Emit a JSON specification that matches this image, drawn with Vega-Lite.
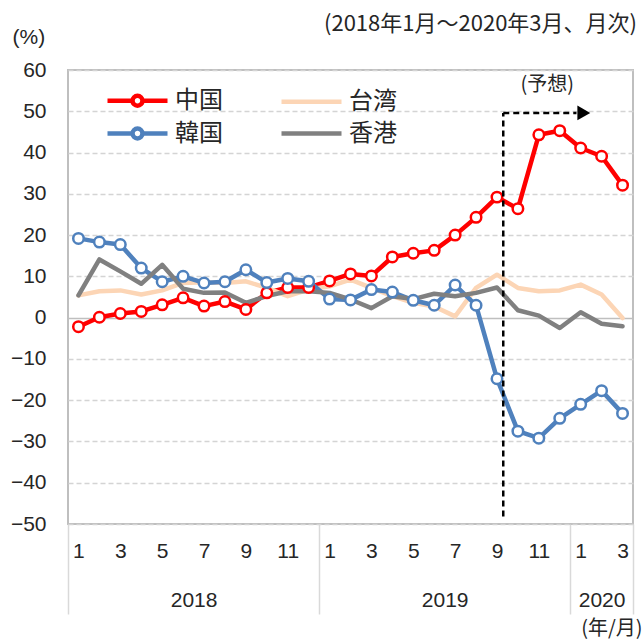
{
  "$schema": "https://vega.github.io/schema/vega-lite/v6.json",
  "width": 565,
  "height": 454,
  "autosize": {"type": "none"},
  "padding": {"left": 68, "top": 70, "right": 11, "bottom": 115},
  "background": "white",
  "title": {"text": "(2018年1月～2020年3月、月次)", "anchor": "end", "frame": "group", "fontSize": 22, "fontWeight": "normal", "font": "Noto Sans CJK JP", "color": "#262626", "offset": -10, "dx": 4},
  "config": {
    "view": {"stroke": "#bfbfbf", "strokeWidth": 2},
    "font": "Noto Sans CJK JP"
  },
  "data": {
    "values": [
      {"t":1,"c":"中国","v":-2.2},{"t":2,"c":"中国","v":0.1},{"t":3,"c":"中国","v":1.0},{"t":4,"c":"中国","v":1.5},{"t":5,"c":"中国","v":3.1},{"t":6,"c":"中国","v":4.8},{"t":7,"c":"中国","v":2.8},{"t":8,"c":"中国","v":3.9},{"t":9,"c":"中国","v":2.0},{"t":10,"c":"中国","v":6.0},{"t":11,"c":"中国","v":7.3},{"t":12,"c":"中国","v":7.3},{"t":13,"c":"中国","v":8.9},{"t":14,"c":"中国","v":10.6},{"t":15,"c":"中国","v":10.1},{"t":16,"c":"中国","v":14.7},{"t":17,"c":"中国","v":15.6},{"t":18,"c":"中国","v":16.3},{"t":19,"c":"中国","v":20.0},{"t":20,"c":"中国","v":24.3},{"t":21,"c":"中国","v":29.2},{"t":22,"c":"中国","v":26.4},{"t":23,"c":"中国","v":44.3},{"t":24,"c":"中国","v":45.3},{"t":25,"c":"中国","v":41.1},{"t":26,"c":"中国","v":39.1},{"t":27,"c":"中国","v":32.1},
      {"t":1,"c":"台湾","v":5.4},{"t":2,"c":"台湾","v":6.4},{"t":3,"c":"台湾","v":6.6},{"t":4,"c":"台湾","v":5.6},{"t":5,"c":"台湾","v":6.6},{"t":6,"c":"台湾","v":8.4},{"t":7,"c":"台湾","v":8.6},{"t":8,"c":"台湾","v":8.4},{"t":9,"c":"台湾","v":8.8},{"t":10,"c":"台湾","v":7.2},{"t":11,"c":"台湾","v":5.2},{"t":12,"c":"台湾","v":6.8},{"t":13,"c":"台湾","v":7.6},{"t":14,"c":"台湾","v":9.2},{"t":15,"c":"台湾","v":7.2},{"t":16,"c":"台湾","v":5.2},{"t":17,"c":"台湾","v":3.6},{"t":18,"c":"台湾","v":2.7},{"t":19,"c":"台湾","v":0.3},{"t":20,"c":"台湾","v":7.2},{"t":21,"c":"台湾","v":10.4},{"t":22,"c":"台湾","v":7.2},{"t":23,"c":"台湾","v":6.4},{"t":24,"c":"台湾","v":6.6},{"t":25,"c":"台湾","v":8.0},{"t":26,"c":"台湾","v":5.6},{"t":27,"c":"台湾","v":-0.1},
      {"t":1,"c":"韓国","v":19.2},{"t":2,"c":"韓国","v":18.3},{"t":3,"c":"韓国","v":17.7},{"t":4,"c":"韓国","v":12.0},{"t":5,"c":"韓国","v":8.7},{"t":6,"c":"韓国","v":10.0},{"t":7,"c":"韓国","v":8.4},{"t":8,"c":"韓国","v":8.7},{"t":9,"c":"韓国","v":11.6},{"t":10,"c":"韓国","v":8.5},{"t":11,"c":"韓国","v":9.5},{"t":12,"c":"韓国","v":8.8},{"t":13,"c":"韓国","v":4.5},{"t":14,"c":"韓国","v":4.3},{"t":15,"c":"韓国","v":6.8},{"t":16,"c":"韓国","v":6.2},{"t":17,"c":"韓国","v":4.2},{"t":18,"c":"韓国","v":3.0},{"t":19,"c":"韓国","v":7.9},{"t":20,"c":"韓国","v":3.0},{"t":21,"c":"韓国","v":-14.8},{"t":22,"c":"韓国","v":-27.5},{"t":23,"c":"韓国","v":-29.2},{"t":24,"c":"韓国","v":-24.4},{"t":25,"c":"韓国","v":-21.0},{"t":26,"c":"韓国","v":-17.7},{"t":27,"c":"韓国","v":-23.2},
      {"t":1,"c":"香港","v":5.4},{"t":2,"c":"香港","v":14.1},{"t":3,"c":"香港","v":11.2},{"t":4,"c":"香港","v":8.2},{"t":5,"c":"香港","v":12.8},{"t":6,"c":"香港","v":7.0},{"t":7,"c":"香港","v":6.0},{"t":8,"c":"香港","v":6.1},{"t":9,"c":"香港","v":3.6},{"t":10,"c":"香港","v":5.2},{"t":11,"c":"香港","v":6.4},{"t":12,"c":"香港","v":6.4},{"t":13,"c":"香港","v":6.0},{"t":14,"c":"香港","v":4.4},{"t":15,"c":"香港","v":2.3},{"t":16,"c":"香港","v":5.2},{"t":17,"c":"香港","v":4.5},{"t":18,"c":"香港","v":5.8},{"t":19,"c":"香港","v":5.2},{"t":20,"c":"香港","v":6.0},{"t":21,"c":"香港","v":7.3},{"t":22,"c":"香港","v":1.8},{"t":23,"c":"香港","v":0.5},{"t":24,"c":"香港","v":-2.5},{"t":25,"c":"香港","v":1.3},{"t":26,"c":"香港","v":-1.5},{"t":27,"c":"香港","v":-2.1}
    ]
  },
  "layer": [
    {
      "mark": {"type": "line", "strokeJoin": "round", "strokeCap": "round"},
      "encoding": {
        "x": {"field": "t", "type": "quantitative", "scale": {"domain": [0.5, 27.5], "nice": false, "zero": false},
          "axis": {"orient": "bottom", "values": [1,3,5,7,9,11,13,15,17,19,21,23,25,27], "labelExpr": "'' + (((datum.value - 1) % 12) + 1)", "ticks": false, "domain": false, "grid": false, "labelPadding": 16, "labelFontSize": 21, "labelColor": "#262626", "labelFont": "Liberation Sans", "labelFlush": false, "labelOverlap": false, "title": null}},
        "y": {"field": "v", "type": "quantitative", "scale": {"domain": [-50, 60], "nice": false, "zero": false},
          "axis": {"orient": "left", "values": [-50,-40,-30,-20,-10,0,10,20,30,40,50,60], "grid": true,
            "gridColor": {"condition": {"test": "datum.value === 0", "value": "#bfbfbf"}, "value": "#d4d4d4"},
            "gridDash": {"condition": {"test": "datum.value === 0", "value": []}, "value": [5, 3]},
            "gridWidth": 1.5, "ticks": false, "domain": false, "labelPadding": 22, "labelFontSize": 21, "labelColor": "#262626", "labelFont": "Liberation Sans",
            "title": "(%)", "titleAngle": 0, "titleX": -56, "titleY": -33, "titleAlign": "left", "titleBaseline": "middle", "titleFontSize": 21, "titleFontWeight": "normal", "titleColor": "#262626", "titleFont": "Liberation Sans"}},
        "color": {"field": "c", "type": "nominal",
          "scale": {"domain": ["中国", "台湾", "韓国", "香港"], "range": ["#ff0000", "#fcd5b5", "#4f81bd", "#808080"]},
          "legend": {"orient": "none", "legendX": 52, "legendY": 13, "direction": "horizontal", "columns": 2, "title": null,
            "symbolType": "M-2,0H2", "symbolSize": 900, "symbolStrokeWidth": 3.5,
            "labelFontSize": 24, "labelFont": "Noto Sans CJK JP", "labelColor": "#262626", "labelOffset": 20,
            "columnPadding": 49, "rowPadding": 1, "padding": 0, "labelLimit": 200,
            "encode": {"symbols": {"update": {
              "shape": {"signal": "(datum.value === '中国' || datum.value === '韓国') ? 'M-2,0H-0.33M0.33,0H2M0.33,0A0.33,0.33,0,1,1,-0.33,0A0.33,0.33,0,1,1,0.33,0Z' : 'M-2,0H2'"},
              "fill": {"signal": "(datum.value === '中国' || datum.value === '韓国') ? 'white' : 'transparent'"}
            }}}}},
        "strokeWidth": {"field": "c", "type": "nominal", "scale": {"domain": ["中国", "台湾", "韓国", "香港"], "range": [4.5, 4.5, 4.5, 3]}, "legend": null}
      }
    },
    {
      "transform": [{"filter": "datum.c === '中国' || datum.c === '韓国'"}],
      "mark": {"type": "point", "filled": false, "fill": "white", "fillOpacity": 1, "opacity": 1, "size": 110, "strokeWidth": 2.5},
      "encoding": {
        "x": {"field": "t", "type": "quantitative", "axis": null},
        "y": {"field": "v", "type": "quantitative", "axis": null},
        "color": {"field": "c", "type": "nominal", "legend": null}
      }
    },
    {
      "data": {"values": [{"x": 21.3, "y1": -48.2, "y2": 49.6}]},
      "mark": {"type": "rule", "strokeDash": [6, 4], "strokeWidth": 2.5, "color": "black"},
      "encoding": {
        "x": {"field": "x", "type": "quantitative", "scale": {"domain": [0.5, 27.5], "nice": false, "zero": false},
          "axis": {"orient": "bottom", "values": [6.5, 18.5, 26], "labelExpr": "datum.value < 12.5 ? '2018' : (datum.value < 24.5 ? '2019' : '2020')", "ticks": false, "domain": false, "grid": false, "labelPadding": 65, "labelFontSize": 21, "labelColor": "#262626", "labelFont": "Liberation Sans", "labelFlush": false, "labelOverlap": false,
            "title": "(年/月)", "titleX": 574, "titleY": 104, "titleAlign": "right", "titleBaseline": "middle", "titleFontSize": 20, "titleFontWeight": "normal", "titleColor": "#262626", "titleFont": "Noto Sans CJK JP"}},
        "y": {"field": "y1", "type": "quantitative", "axis": null},
        "y2": {"field": "y2"}
      }
    },
    {
      "data": {"values": [{"x1": 21.3, "x2": 24.8, "y": 49.6}]},
      "mark": {"type": "rule", "strokeDash": [6, 4], "strokeWidth": 2.5, "color": "black"},
      "encoding": {
        "x": {"field": "x1", "type": "quantitative", "scale": {"domain": [0.5, 27.5], "nice": false, "zero": false},
          "axis": {"orient": "bottom", "values": [0.5, 12.5, 24.5, 27.5], "labels": false, "ticks": true, "tickSize": 90, "tickColor": "#d9d9d9", "tickWidth": 1.5, "domain": false, "grid": false, "title": null}},
        "x2": {"field": "x2"},
        "y": {"field": "y", "type": "quantitative", "axis": null}
      }
    },
    {
      "data": {"values": [{"x": 25.15, "y": 49.6}]},
      "mark": {"type": "point", "shape": "triangle-right", "filled": true, "color": "black", "size": 220, "opacity": 1},
      "encoding": {
        "x": {"field": "x", "type": "quantitative", "axis": null},
        "y": {"field": "y", "type": "quantitative", "axis": null}
      }
    },
    {
      "data": {"values": [{"x": 23.4, "y": 56.3, "label": "(予想)"}]},
      "mark": {"type": "text", "fontSize": 20, "font": "Noto Sans CJK JP", "color": "#262626"},
      "encoding": {
        "x": {"field": "x", "type": "quantitative", "axis": null},
        "y": {"field": "y", "type": "quantitative", "axis": null},
        "text": {"field": "label"}
      }
    }
  ],
  "resolve": {"axis": {"x": "independent", "y": "independent"}}
}
